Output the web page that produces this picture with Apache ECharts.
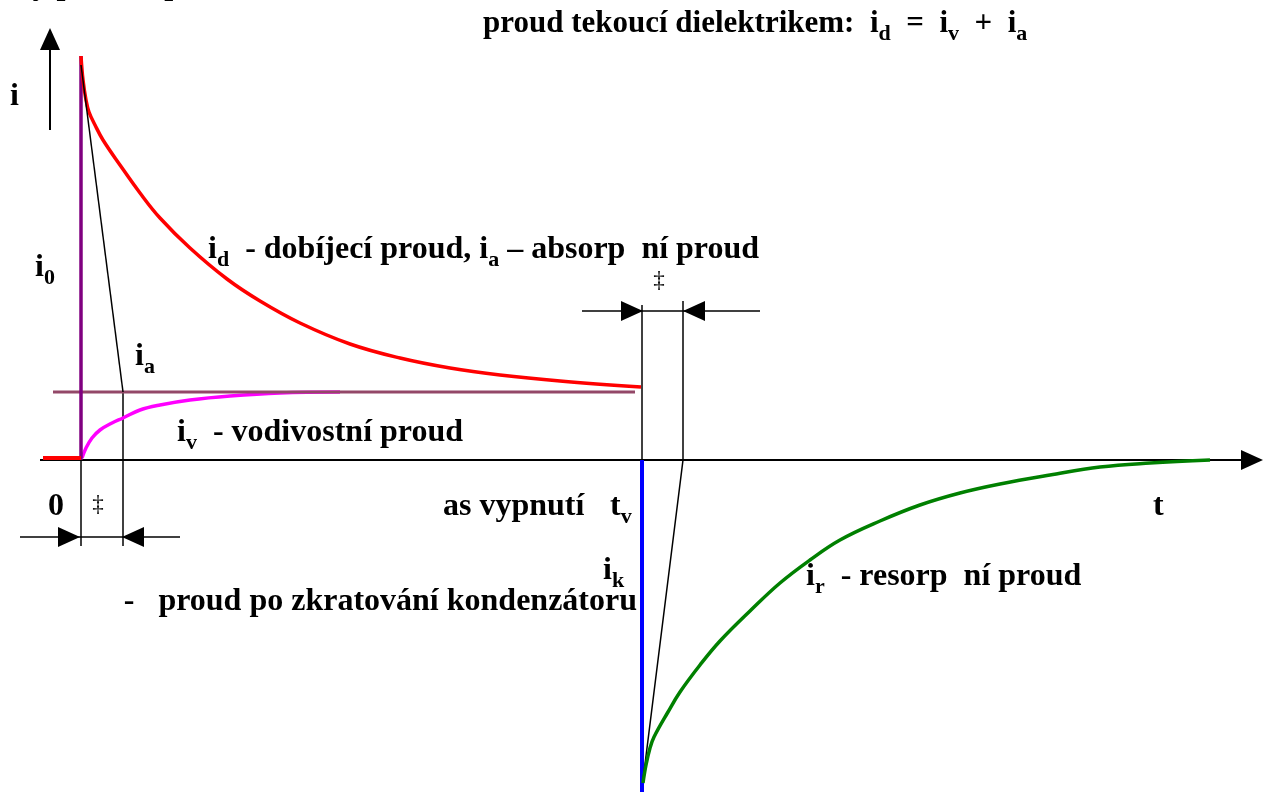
<!DOCTYPE html>
<html>
<head>
<meta charset="utf-8">
<script src="https://cdn.jsdelivr.net/npm/echarts@6/dist/echarts.min.js"></script>
<style>
  html, body { margin: 0; padding: 0; background: #fff; }
  #chart { width: 1270px; height: 792px; }
</style>
</head>
<body>
<div id="chart"></div>
<script>
// time t from switching on (t = 0), current i from zero; both in drawing units
const tOff = 561;        // t_v, switching off
const tDelta = 42;       // the short interval marked with the double dagger
const i0 = 404;          // current peak at switch on
const ivSteady = 68;     // steady conduction current

// i_d - charging current (red)
const chargeT = [0, 2, 5, 8, 14, 22, 39, 59, 79, 109, 146, 179, 219, 269, 319, 369, 419, 479, 560];
const chargeI = [404, 380, 360, 348, 335, 320, 295, 267, 242, 212, 181, 159, 137, 116, 102, 92, 85, 79, 73];

// i_v - conduction current (magenta)
const condT = [1, 5, 11, 19, 31, 42, 59, 79, 109, 149, 199, 259];
const condI = [2, 12, 22, 30, 37, 42, 50, 55, 60, 64, 67, 68];

// i_r - resorption current (green)
const resorbT = [562, 565, 569, 573, 587, 599, 619, 639, 669, 699, 729, 759, 799, 839, 879, 919, 969, 1019, 1069, 1129];
const resorbI = [-323, -305, -288, -277, -252, -232, -205, -181, -151, -123, -100, -80, -61, -45, -33, -24, -15, -7, -3, 0];

const zip = (xs, ys) => xs.map((x, k) => [x, ys[k]]);

function seg(data, color, width, smooth) {
  return {
    type: 'line',
    data: data,
    symbol: 'none',
    smooth: smooth || false,
    silent: true,
    lineStyle: { color: color, width: width, cap: 'butt' },
    z: 2
  };
}

const serif = '"Liberation Serif", "Times New Roman", serif';
const rich = {
  b: { fontFamily: serif, fontSize: 32, fontWeight: 'bold', color: '#000' },
  t: { fontFamily: serif, fontSize: 31, fontWeight: 'bold', color: '#000' },
  s: { fontFamily: serif, fontSize: 22, fontWeight: 'bold', color: '#000', padding: [20, 0, 0, 0] },
  n: { fontFamily: serif, fontSize: 23, color: '#000' }
};

// [left x, baseline y, text]
const labels = [
  [-51, -4, '{b|Časový průběh proudu}'],
  [483, 34, '{t|proud tekoucí dielektrikem:  i}{s|d}{t|  =  i}{s|v}{t|  +  i}{s|a}'],
  [10, 107, '{b|i}'],
  [35, 278, '{b|i}{s|0}'],
  [135, 367, '{b|i}{s|a}'],
  [208, 260, '{b|i}{s|d}{b|  - dobíjecí proud, i}{s|a}{b| – absorp  ní proud}'],
  [177, 443, '{b|i}{s|v}{b|  - vodivostní proud}'],
  [48, 517, '{b|0}'],
  [443, 517, '{b|as vypnutí}'],
  [610, 517, '{b|t}{s|v}'],
  [1153, 517, '{b|t}'],
  [603, 581, '{b|i}{s|k}'],
  [806, 587, '{b|i}{s|r}{b|  - resorp  ní proud}']
];

const graphic = labels.map(([x, base, text]) => ({
  type: 'text',
  x: x,
  y: base - 10,
  z: 10,
  style: { text: text, rich: rich, align: 'left', verticalAlign: 'middle' }
}));
graphic.push({
  type: 'text', x: 637, y: 602, z: 10,
  style: { text: '{b|-   proud po zkratování kondenzátoru}', rich: rich, align: 'right', verticalAlign: 'middle' }
});
graphic.push({
  type: 'text', x: 98, y: 505, z: 10,
  style: { text: '{n|‡}', rich: rich, align: 'center', verticalAlign: 'middle' }
});
graphic.push({
  type: 'text', x: 659, y: 281, z: 10,
  style: { text: '{n|‡}', rich: rich, align: 'center', verticalAlign: 'middle' }
});

// arrow heads: [t, i, rotation]
const arrowHeads = [
  [1171, 0, -90],
  [-31, 421, 0],
  [-12, -77, -90],
  [tDelta + 10, -77, 90],
  [tOff - 10, 149, -90],
  [tOff + tDelta + 10, 149, 90]
];

const series = [
  seg([[-41, 0], [1164, 0]], '#000', 2),
  seg([[-31, 330], [-31, 412]], '#000', 2),
  // dimension marks at switch on
  seg([[0, 0], [0, -86]], '#000', 1.5),
  seg([[tDelta, ivSteady], [tDelta, -86]], '#000', 1.5),
  seg([[-61, -77], [99, -77]], '#000', 1.5),
  // dimension marks at switch off
  seg([[tOff, 155], [tOff, 0]], '#000', 1.5),
  seg([[tOff + 41, 159], [tOff + 41, 0]], '#000', 1.5),
  seg([[501, 149], [679, 149]], '#000', 1.5),
  seg(zip(condT, condI), '#ff00ff', 3.5, 0.4),
  seg([[-28, ivSteady], [554, ivSteady]], '#934868', 3),
  seg([[0, 0], [0, i0]], '#800080', 3.5),
  seg([[-38, 2], [0, 2]], '#ff0000', 4),
  seg(zip(chargeT, chargeI), '#ff0000', 3.5, 0.4),
  seg([[0, 395], [tDelta, ivSteady]], '#000', 1.5),
  seg([[tOff, 0], [tOff, -332]], '#0000ff', 4),
  seg([[tOff + 41, 0], [tOff + 1, -320]], '#000', 1.5),
  seg(zip(resorbT, resorbI), '#008000', 3.5, 0.4),
  {
    type: 'scatter',
    silent: true,
    symbol: 'triangle',
    symbolSize: [20, 22],
    itemStyle: { color: '#000', opacity: 1 },
    z: 3,
    data: arrowHeads.map(([t, i, r]) => ({ value: [t, i], symbolRotate: r }))
  }
];

const chart = echarts.init(document.getElementById('chart'));
chart.setOption({
  animation: false,
  backgroundColor: '#fff',
  grid: { left: 0, right: 0, top: 0, bottom: 0 },
  xAxis: { type: 'value', min: -81, max: 1189, show: false },
  yAxis: { type: 'value', min: -332, max: 460, show: false },
  series: series,
  graphic: graphic
});
</script>
</body>
</html>
